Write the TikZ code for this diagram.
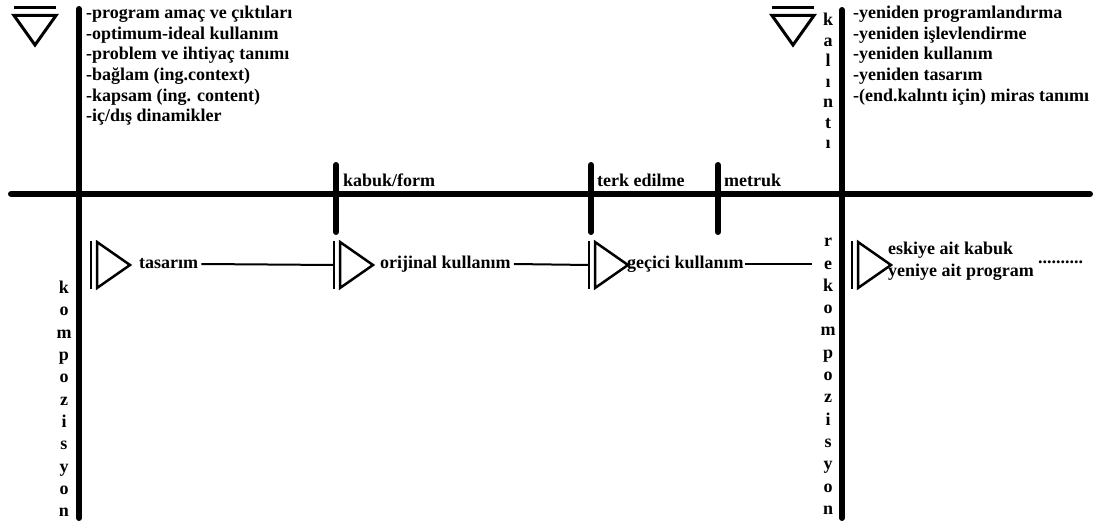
\documentclass[tikz,border=0pt]{standalone}
\usepackage{fontspec}
\setmainfont{Liberation Serif}
\begin{document}
\begin{tikzpicture}[x=1pt,y=-1pt,
  thick line/.style={line width=6pt,line cap=round},
  mark line/.style={line width=2.5pt},
  conn/.style={line width=2pt},
  lbl/.style={font=\fontsize{18}{20}\selectfont\bfseries,inner sep=0pt},
  stack/.style={font=\fontsize{18}{22.3}\selectfont\bfseries,inner sep=0pt,align=center},
  list/.style={lbl,anchor=north west,align=left,font=\fontsize{18}{20.6}\selectfont\bfseries},
]
\useasboundingbox[fill=white] (0,0) rectangle (1095,524);
% main lines
\coordinate (hl) at (11,194); \coordinate (hr) at (1090,194);
\draw[thick line] (hl) -- (hr);
\coordinate (vlt) at (79,9); \coordinate (vlb) at (79,518);
\draw[thick line] (vlt) -- (vlb);
\coordinate (vrt) at (842,10); \coordinate (vrb) at (842,518);
\draw[thick line] (vrt) -- (vrb);
% short verticals
\foreach \n/\x in {a/336,b/591,c/718}{
  \coordinate (s\n t) at (\x,165); \coordinate (s\n b) at (\x,232);
  \draw[thick line] (s\n t) -- (s\n b);
}
% labels on main line
\node[lbl,anchor=base west] (kabuk) at (343,186) {kabuk/form};
\node[lbl,anchor=base west] (terk) at (597,186) {terk edilme};
\node[lbl,anchor=base west] (metruk) at (724,186) {metruk};
% top symbols
\foreach \n/\x in {L/14,R/772}{
  \coordinate (\n a) at (\x,8);
  \draw[line width=3pt] (\n a) -- ++(42,0);
  \draw[line width=3pt,line join=miter] (\x,15.5) -- ++(42,0) -- ++(-21,29.5) -- cycle;
}
% lists
\node[list] (listL) at (86,6)
 {-program amaç ve çıktıları\\-optimum-ideal kullanım\\-problem ve ihtiyaç tanımı\\-bağlam (ing.context)\\-kapsam (ing. content)\\-iç/dış dinamikler};
\node[list] (listR) at (853,6)
 {-yeniden programlandırma\\-yeniden işlevlendirme\\-yeniden kullanım\\-yeniden tasarım\\-(end.kalıntı için) miras tanımı};
% stacked words
\node[stack,anchor=north,font=\fontsize{18}{20.5}\selectfont\bfseries] (kalinti) at (828,13) {k\\a\\l\\ı\\n\\t\\ı};
\node[stack,anchor=north] (komp) at (64,281) {k\\o\\m\\p\\o\\z\\i\\s\\y\\o\\n};
\node[stack,anchor=north] (rekomp) at (828,238) {r\\e\\k\\o\\m\\p\\o\\z\\i\\s\\y\\o\\n};
% markers
\foreach \n/\x in {1/91,2/334,3/589,4/852}{
  \coordinate (m\n) at (\x,265);
  \draw[mark line] (\x,241) -- (\x,289);
  \draw[mark line,line join=miter] (\x+6,242) -- (\x+6,288) -- (\x+39,265) -- cycle;
}
% stage texts
\node[lbl,anchor=west] (tasarim) at (139,264) {tasarım};
\node[lbl,anchor=west] (orijinal) at (380,264) {orijinal kullanım};
\node[lbl,anchor=west] (gecici) at (627,264) {geçici kullanım};
\node[lbl,anchor=west,align=left,font=\fontsize{18}{22}\selectfont\bfseries] (yeni) at (888,261) {eskiye ait kabuk\\yeniye ait program};
\node[lbl,anchor=west] (dots) at (1038,262) {..........};
\coordinate (recon) at (812,264);
% connectors
\draw[conn] ([xshift=3pt]tasarim.east) -- (m2);
\draw[conn] ([xshift=3pt]orijinal.east) -- (m3);
\draw[conn] ([xshift=1pt]gecici.east) -- (recon);
\end{tikzpicture}
\end{document}
